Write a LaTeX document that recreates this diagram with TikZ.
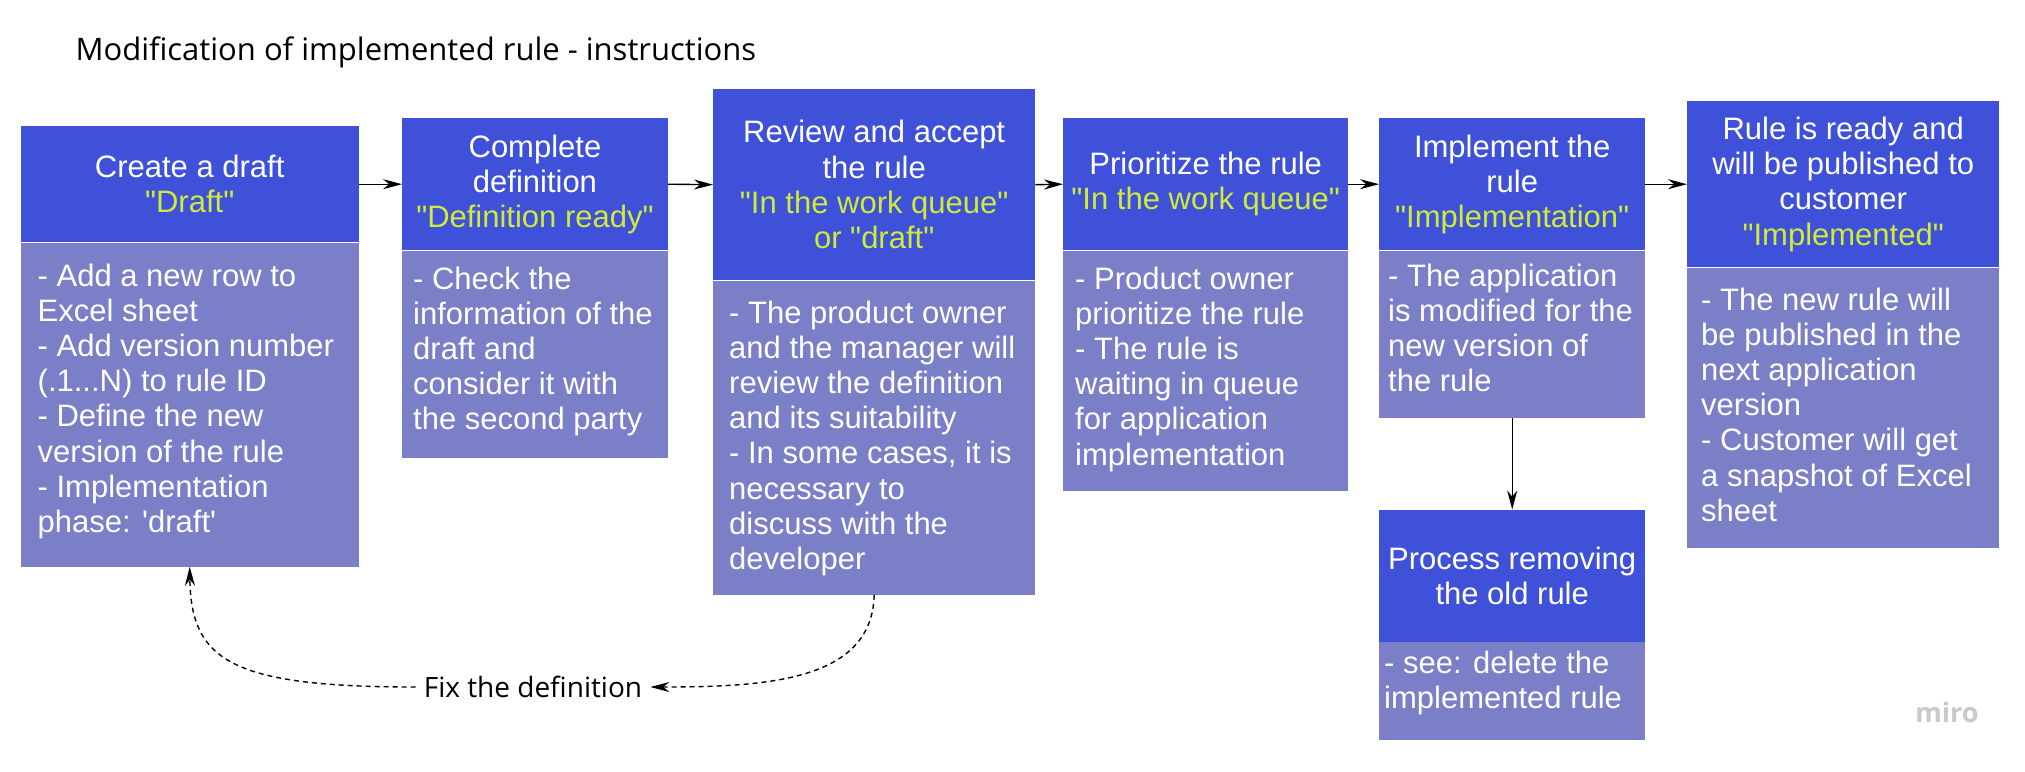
\documentclass[tikz,border=0pt]{standalone}
\usepackage{fontspec}
\setmainfont{Liberation Sans}[Ligatures=TeXOff]
\newfontfamily\opensans{Open Sans}
\usetikzlibrary{arrows.meta,positioning}
\definecolor{hdblue}{HTML}{3F51D8}
\definecolor{bdblue}{HTML}{7A7FC8}
\definecolor{stlime}{HTML}{D0EB3A}
\definecolor{logogray}{HTML}{C8C8CE}
\newcommand{\status}[1]{\textcolor{stlime}{#1}}

\begin{document}
\begin{tikzpicture}[
  x=1pt, y=-1pt,
  boxfont/.style={font=\fontsize{31}{35.2}\selectfont},
  head/.style={boxfont, fill=hdblue, text=white, align=center, inner sep=0pt, anchor=north west},
  body/.style={fill=bdblue, inner sep=0pt, anchor=north west},
  btxt/.style={boxfont, text=white, align=left, anchor=north west, inner xsep=12pt, inner ysep=16pt},
  link/.style={-{Stealth[length=19pt,width=10pt]}, line width=1.4pt},
  fix/.style={link, dash pattern=on 5pt off 4pt},
]
\fill[white] (0,0) rectangle (2025,771);
\useasboundingbox (0,0) rectangle (2025,771);
\newcommand{\rulebox}[9]{%
  \node[head, minimum width=#4pt, minimum height=#5pt] (h#1) at (#2,#3) {#7};
  \node[body, minimum width=#4pt, minimum height=#6pt] (b#1) at (h#1.south west) {};
  \node[btxt, #9] (t#1) at (b#1.north west) {#8};}
% ---------------- title ----------------
\node[anchor=base west, font=\opensans\fontsize{31}{36}\selectfont] (title) at (72,60)
  {Modification of implemented rule - instructions};
% ---------------- steps ----------------
\rulebox{1}{20.5}{126}{338}{116}{324}
  {Create a draft\\\status{"Draft"}}
  {- Add a new row to\\Excel sheet\\- Add version number\\(.1...N) to rule ID\\- Define the new\\version of the rule\\- Implementation\\phase: 'draft'}
  {inner xsep=17pt, inner ysep=21pt}
\rulebox{2}{402}{118}{265.5}{132}{207}
  {Complete\\definition\\\status{"Definition ready"}}
  {- Check the\\information of the\\draft and\\consider it with\\the second party}
  {inner xsep=11pt}
\rulebox{3}{713}{89}{322}{191}{314}
  {Review and accept\\the rule\\\status{"In the work queue"}\\\status{or "draft"}}
  {- The product owner\\and the manager will\\review the definition\\and its suitability\\- In some cases, it is\\necessary to\\discuss with the\\developer}
  {inner xsep=16pt, inner ysep=20pt}
\rulebox{4}{1063}{118}{285}{132}{240.5}
  {Prioritize the rule\\\status{"In the work queue"}}
  {- Product owner\\prioritize the rule\\- The rule is\\waiting in queue\\for application\\implementation}
  {inner xsep=12pt}
\rulebox{5}{1379}{118}{266}{132}{167}
  {Implement the\\rule\\\status{"Implementation"}}
  {- The application\\is modified for the\\new version of\\the rule}
  {inner xsep=9pt, inner ysep=13pt}
\rulebox{6}{1379}{509.5}{266}{132}{98}
  {Process removing\\the old rule}
  {- see: delete the\\implemented rule}
  {inner xsep=5pt, inner ysep=9pt}
\rulebox{7}{1687}{101}{312}{166}{280}
  {Rule is ready and\\will be published to\\customer\\\status{"Implemented"}}
  {- The new rule will\\be published in the\\next application\\version\\- Customer will get\\a snapshot of Excel\\sheet}
  {inner xsep=14pt, inner ysep=20pt}
% ---------------- flow ----------------
\draw[link] (h1.east) -- (h2.west);
\draw[link] (h2.east) -- (h3.west);
\draw[link] (h3.east) -- (h4.west);
\draw[link] (h4.east) -- (h5.west);
\draw[link] (h5.east) -- (h7.west);
\draw[link] (b5.south) -- (h6.north);
% ---------------- send back ----------------
\node[font=\opensans\fontsize{28}{32}\selectfont, inner xsep=8pt] (fixlbl) at (533,687) {Fix the definition};
\draw[fix] (b3.south) .. controls (872,680) and (770,687) .. (fixlbl.east);
\draw[fix] (fixlbl.west) .. controls (230,687) and (191,660) .. (b1.south);
% ---------------- logo ----------------
\node[font=\opensans\bfseries\fontsize{27}{27}\selectfont, text=logogray] (logo) at (1947,712) {miro};
\end{tikzpicture}
\end{document}
